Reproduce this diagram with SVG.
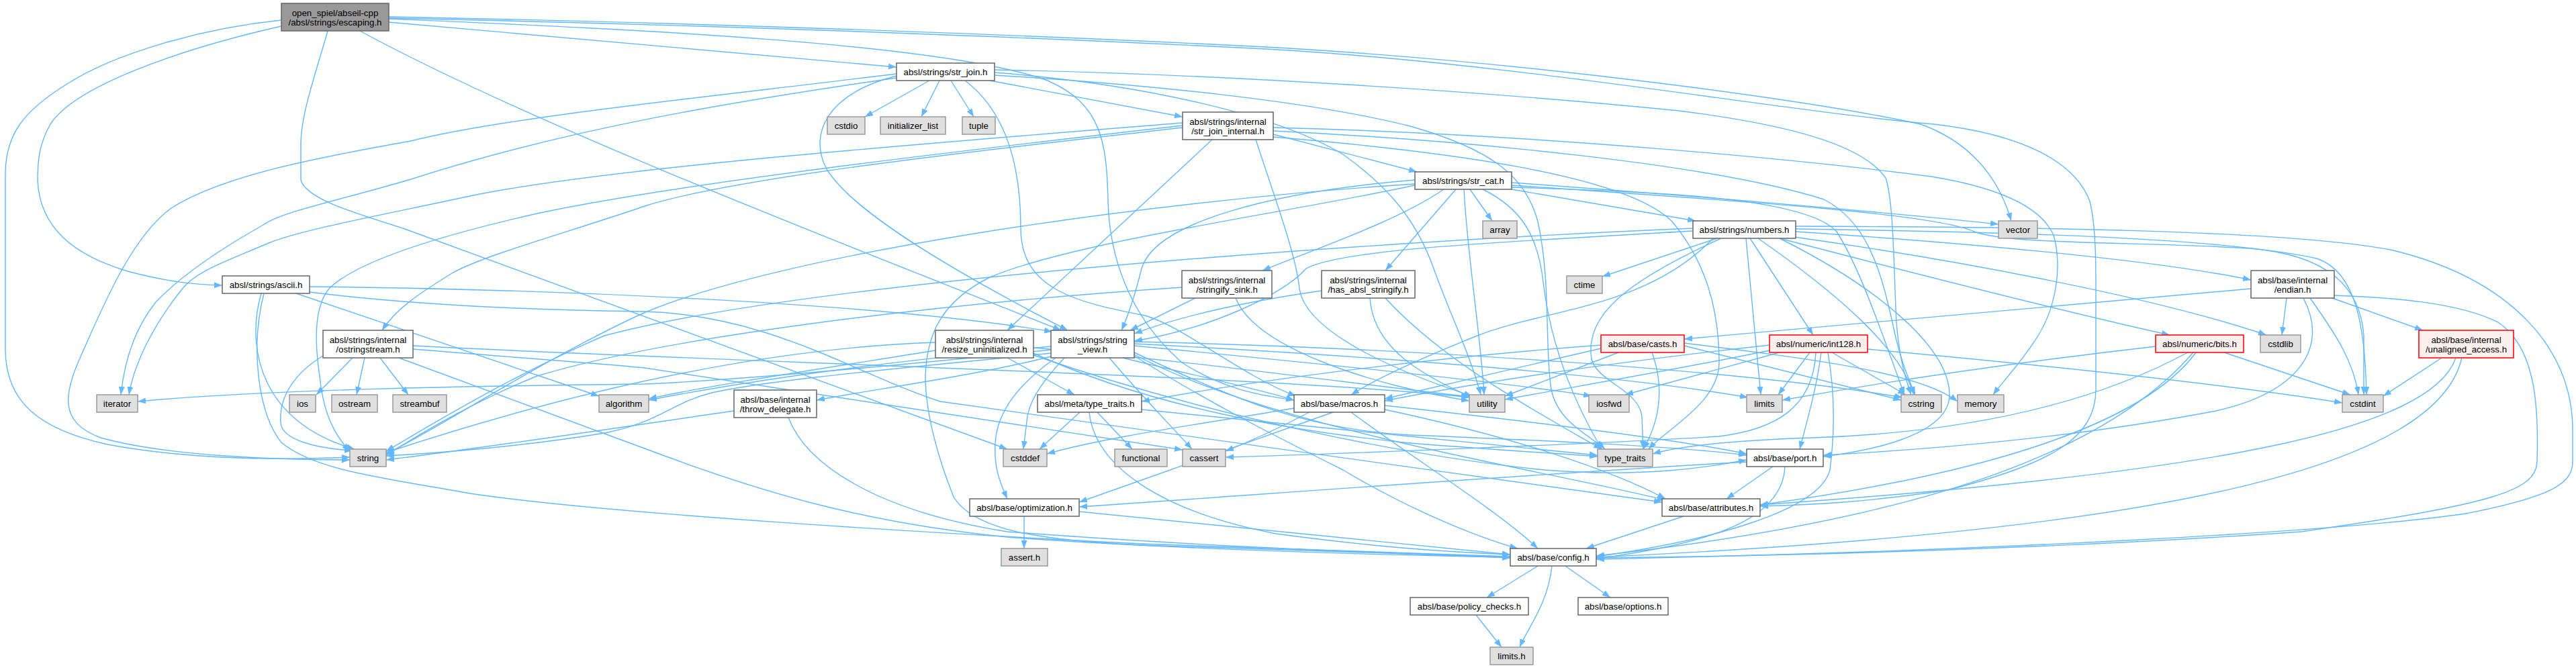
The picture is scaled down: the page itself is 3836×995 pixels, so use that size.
<svg xmlns="http://www.w3.org/2000/svg" width="3836" height="995" viewBox="0 0 3836 995">
<defs>
<marker id="a" markerWidth="12" markerHeight="9" refX="12" refY="4.5" orient="auto" markerUnits="userSpaceOnUse"><path d="M0,0 L12,4.5 L0,9 z" fill="#63B8FF"/></marker>
<style>
.e path{fill:none;stroke:#63B8FF;stroke-width:1.4;marker-end:url(#a)}
.w rect{fill:#fff;stroke:#666;stroke-width:1.5}
.g rect{fill:#E0E0E0;stroke:#999;stroke-width:1.5}
.r rect{fill:#FFF0F0;stroke:#F00;stroke-width:1.5}
.k rect{fill:#999;stroke:#666;stroke-width:1.5}
text{font-family:"Liberation Sans",Arial,Helvetica,sans-serif;font-size:13.3px;text-anchor:middle;fill:#000}
</style>
</defs>
<rect width="3836" height="995" fill="#fff"/>
<g id="edges" class="e">
<path d="M579,33 L1335,100"/>
<path d="M419,30 C300,42 170,80 100,125 C35,165 8,200 8,260 L8,520 C8,600 60,640 160,662 C300,688 450,684 521,681"/>
<path d="M419,39 C260,75 110,130 75,185 C58,215 56,240 56,270 C60,340 110,380 190,404 C250,420 290,424 331,425"/>
<path d="M488,46 C470,110 448,170 448,215 L448,268 C455,295 520,315 600,340 L1500,669"/>
<path d="M536,46 C800,190 1300,380 1580,492"/>
<path d="M579,28 C900,42 1400,62 1560,120 C1640,155 1648,210 1650,300 C1652,380 1680,470 1760,540 C1830,585 1890,590 1927,596"/>
<path d="M579,25 C1100,35 1600,55 1920,72 C2300,95 2700,150 2860,185 C2930,210 2975,260 2995,329"/>
<path d="M579,27 C1100,38 1600,58 1920,75 C2300,100 2650,165 2880,185 C3010,200 3090,240 3112,300 C3122,340 3121,400 3121,460 L3121,580 C3121,650 3060,690 2900,730 C2780,748 2700,752 2621,754"/>
<path d="M1384,120 L1288,174"/>
<path d="M1399,120 L1372,174"/>
<path d="M1416,120 L1450,174"/>
<path d="M1474,120 L1761,174"/>
<path d="M1335,110 C1050,145 750,175 612,210 C470,235 330,262 255,310 C200,350 160,440 125,520 C95,585 85,628 150,652 C250,680 420,685 521,685"/>
<path d="M1335,116 C1100,150 850,190 612,267 C500,300 420,315 392,335 C330,370 270,410 232,450 C200,490 185,540 180,588"/>
<path d="M1335,113 C1230,140 1205,200 1230,250 C1270,320 1450,420 1590,492"/>
<path d="M1437,120 C1490,160 1520,230 1520,340 C1520,430 1600,450 1705,470 C1760,485 1850,560 1930,590"/>
<path d="M1481,104 C1800,110 2200,135 2500,165 C2700,190 2780,225 2808,265 C2820,300 2820,400 2824,480 C2828,530 2836,560 2846,588"/>
<path d="M1481,112 C1700,125 1950,150 2100,188 C2220,222 2272,262 2290,330 C2310,420 2300,520 2310,580 C2320,630 2370,650 2390,669"/>
<path d="M1481,108 C1700,125 1900,170 2000,230 C2070,280 2110,330 2135,400 C2160,470 2190,530 2205,588"/>
<path d="M1896,195 C2200,210 2550,245 2716,297 C2780,330 2800,400 2818,480 C2828,530 2840,560 2852,588"/>
<path d="M1896,190 C2300,200 2700,240 2876,263 C2980,280 3040,310 3058,350 C3072,400 3060,460 3035,500 C3010,540 2985,565 2968,588"/>
<path d="M1896,204 C2150,225 2420,260 2490,330 C2540,390 2560,460 2560,540 C2560,600 2480,640 2455,669"/>
<path d="M1870,208 C1900,300 1930,380 1935,430 C1945,500 2100,560 2192,590"/>
<path d="M1805,208 L1500,492"/>
<path d="M1896,200 L2110,256"/>
<path d="M1761,190 C1500,220 1100,262 960,307 C850,345 720,380 673,407 C620,440 590,460 569,492"/>
<path d="M1761,183 C1400,212 900,250 700,292 C560,322 450,342 400,362 C330,392 290,405 270,432 C230,482 200,540 192,588"/>
<path d="M1761,187 C1400,228 1000,275 800,318 C650,352 530,390 490,430 C465,460 470,520 476,560 C480,600 490,640 521,672"/>
<path d="M2150,282 C2080,330 1960,370 1880,403"/>
<path d="M2168,282 L2063,403"/>
<path d="M2180,282 C2185,380 2205,500 2210,588"/>
<path d="M2189,282 L2222,329"/>
<path d="M2208,282 C2265,310 2290,350 2298,420 C2310,520 2345,600 2385,669"/>
<path d="M2251,272 C2500,290 2800,315 2976,334"/>
<path d="M2251,276 C2600,300 2880,318 2940,345 C2990,365 3200,360 3350,370 C3470,380 3515,430 3520,500 L3520,588"/>
<path d="M2251,279 C2480,286 2690,295 2735,345 C2770,400 2800,490 2836,588"/>
<path d="M2251,282 L2525,329"/>
<path d="M2107,274 C1700,300 1150,380 950,470 C800,540 650,640 575,676"/>
<path d="M2107,268 C1900,285 1720,330 1700,400 C1690,440 1680,470 1670,492"/>
<path d="M2107,276 C1900,320 1600,360 1474,413 C1400,450 1380,500 1378,560 C1378,620 1400,690 1420,740 C1450,790 1550,805 1700,812 C1900,820 2100,826 2249,830"/>
<path d="M2557,355 L2386,412"/>
<path d="M2551,355 C2450,460 2300,460 2200,500 C2100,540 2040,570 2012,588"/>
<path d="M2563,355 C2420,420 2360,470 2370,535 C2380,570 2440,580 2445,620 L2447,669"/>
<path d="M2600,355 L2622,588"/>
<path d="M2606,355 L2700,499"/>
<path d="M2618,355 C2740,440 2830,520 2850,588"/>
<path d="M2650,355 C2900,420 3100,470 3231,499"/>
<path d="M2665,352 C2900,385 3200,440 3375,499"/>
<path d="M2674,345 C2900,360 3200,385 3352,417"/>
<path d="M2674,341 C2950,345 3300,352 3450,385 C3510,405 3522,490 3524,588"/>
<path d="M2674,337 C3000,338 3400,342 3560,372 C3740,415 3831,520 3831,640 L3831,688 C3831,720 3800,740 3672,765 C3500,790 3000,820 2377,833"/>
<path d="M2650,355 C2800,430 2905,520 2903,590 C2900,650 2780,672 2715,680"/>
<path d="M2521,340 C2000,362 1200,420 900,500 C760,560 630,640 575,672"/>
<path d="M2521,344 C2250,360 2000,370 1945,400 C1910,440 1800,490 1689,508"/>
<path d="M1968,433 C1850,450 1760,470 1689,497"/>
<path d="M2040,444 C2045,520 2120,560 2192,592"/>
<path d="M2063,444 C2150,540 2300,620 2385,669"/>
<path d="M1780,444 L1683,492"/>
<path d="M1760,428 C1400,452 1000,500 800,560 C700,600 620,650 575,678"/>
<path d="M1840,444 C1870,520 2050,575 2188,597"/>
<path d="M441,437 L892,590"/>
<path d="M389,437 C365,520 390,630 528,669"/>
<path d="M393,437 C372,520 385,620 420,660 C470,700 560,710 700,735 C900,765 1400,795 1700,810 C1950,820 2150,826 2249,829"/>
<path d="M461,427 C800,430 1300,450 1567,494"/>
<path d="M461,435 C620,455 800,462 960,464 C1150,470 1280,560 1400,598 C1700,640 2200,710 2475,748"/>
<path d="M525,533 L471,588"/>
<path d="M543,533 L531,588"/>
<path d="M566,533 L608,588"/>
<path d="M481,530 C440,555 415,590 418,630 C420,655 470,668 525,671"/>
<path d="M594,533 L960,668 C1150,740 1300,780 1500,800 C1700,815 2000,826 2249,830"/>
<path d="M615,515 C1100,540 1900,560 2188,592"/>
<path d="M615,520 C800,535 900,542 960,548 L1761,670"/>
<path d="M1393,522 C1250,545 1050,575 966,594"/>
<path d="M1393,510 C1100,520 800,600 575,674"/>
<path d="M1500,533 L1600,588"/>
<path d="M1539,518 C1800,540 2000,570 2188,591"/>
<path d="M1539,526 C1700,600 1900,640 2100,660 C2250,672 2330,676 2379,680"/>
<path d="M1539,529 C1800,620 2100,680 2300,700 C2450,712 2550,695 2601,685"/>
<path d="M1093,612 C900,640 700,670 575,685"/>
<path d="M1174,622 C1200,690 1300,760 1500,792 C1800,815 2100,825 2249,831"/>
<path d="M1608,614 L1548,669"/>
<path d="M1634,614 L1686,669"/>
<path d="M1622,614 C1630,690 1720,760 1900,795 C2050,815 2150,822 2249,826"/>
<path d="M1700,610 C1900,630 2200,660 2379,678"/>
<path d="M2410,525 L2241,590"/>
<path d="M2460,525 C2480,580 2470,630 2447,669"/>
<path d="M2508,515 L2831,596"/>
<path d="M2508,511 C2700,535 2860,555 2915,598"/>
<path d="M2384,519 L2062,594"/>
<path d="M2384,514 C2100,535 1850,570 1700,598"/>
<path d="M2635,514 C2400,540 2200,570 2062,597"/>
<path d="M2640,521 C2500,550 2350,575 2241,595"/>
<path d="M2650,525 L2420,588"/>
<path d="M2695,525 L2648,588"/>
<path d="M2728,525 L2838,588"/>
<path d="M2781,520 C3000,540 3300,570 3488,600"/>
<path d="M2712,525 C2705,580 2690,630 2680,669"/>
<path d="M2722,525 C2735,600 2730,660 2725,700 C2710,760 2550,805 2377,829"/>
<path d="M2704,525 C2700,610 2640,640 2560,650 C2400,660 2000,676 1825,681"/>
<path d="M3312,525 L3500,588"/>
<path d="M3210,516 C3000,540 2800,570 2654,596"/>
<path d="M3258,525 C3100,610 2900,645 2700,652 C2580,656 2500,665 2461,676"/>
<path d="M3266,525 C3150,660 2900,770 2377,828"/>
<path d="M3270,525 C3200,620 3000,700 2621,752"/>
<path d="M3405,444 L3398,499"/>
<path d="M3440,444 C3480,500 3505,540 3512,588"/>
<path d="M3473,444 L3608,492"/>
<path d="M3352,430 C3000,460 2700,490 2508,505"/>
<path d="M3476,440 C3560,443 3660,450 3720,480 C3780,520 3780,620 3778,688 C3776,730 3720,750 3427,792 C3100,815 2700,828 2377,831"/>
<path d="M3430,444 C3470,520 3420,585 3300,612 C3100,650 2900,668 2715,678"/>
<path d="M3636,533 L3549,590"/>
<path d="M3657,533 C3620,640 3300,705 2621,752"/>
<path d="M3666,533 C3630,690 3250,790 2377,830"/>
<path d="M1950,614 C1900,640 1860,658 1825,672"/>
<path d="M1927,608 C1800,630 1650,650 1559,676"/>
<path d="M1985,614 L1607,748"/>
<path d="M2012,614 C2100,680 2230,760 2290,817"/>
<path d="M2062,610 C2250,650 2400,700 2480,743"/>
<path d="M2062,604 C2300,630 2500,655 2601,676"/>
<path d="M1565,516 C1300,540 1100,570 966,596"/>
<path d="M1565,521 C1300,548 1100,566 960,572 C700,575 400,580 205,598"/>
<path d="M1565,526 C1350,548 1150,565 1060,585 C1000,600 980,630 900,645 C780,665 650,675 575,679"/>
<path d="M1565,531 C1450,560 1300,580 1216,596"/>
<path d="M1585,533 C1560,560 1535,590 1530,620 L1524,669"/>
<path d="M1572,533 C1520,570 1485,610 1482,660 C1480,700 1490,720 1500,743"/>
<path d="M1652,533 C1700,590 1740,630 1775,669"/>
<path d="M1672,533 C1780,560 1870,578 1927,596"/>
<path d="M1689,530 C1800,600 1900,650 2000,700 C2100,760 2200,800 2260,817"/>
<path d="M1689,515 C1950,540 2250,570 2370,590"/>
<path d="M1689,512 C2000,528 2400,556 2603,592"/>
<path d="M1689,509 C2100,518 2600,552 2833,592"/>
<path d="M1689,525 C1850,600 1950,640 2100,648 C2300,656 2500,665 2601,678"/>
<path d="M1689,528 C1900,640 2300,700 2480,745"/>
<path d="M1525,769 L1525,817"/>
<path d="M1607,762 L2249,826"/>
<path d="M2640,695 L2571,743"/>
<path d="M2658,695 C2655,770 2560,808 2377,832"/>
<path d="M2601,688 C2300,705 1900,735 1607,755"/>
<path d="M2507,769 L2362,817"/>
<path d="M2290,843 L2214,890"/>
<path d="M2331,843 L2398,890"/>
<path d="M2311,843 C2305,900 2275,935 2263,964"/>
<path d="M2198,916 L2236,964"/>
</g>
<g id="n_escaping" class="k"><rect x="419" y="5" width="160" height="41"/><text x="499" y="23.5">open_spiel/abseil-cpp</text><text x="499" y="38.3">/absl/strings/escaping.h</text></g>
<g id="n_str_join" class="w"><rect x="1335" y="94" width="146" height="26"/><text x="1408" y="111.7">absl/strings/str_join.h</text></g>
<g id="n_cstdio" class="g"><rect x="1232" y="174" width="56" height="26"/><text x="1260" y="191.7">cstdio</text></g>
<g id="n_initializer_list" class="g"><rect x="1311" y="174" width="97" height="26"/><text x="1359.5" y="191.7">initializer_list</text></g>
<g id="n_tuple" class="g"><rect x="1433" y="174" width="49" height="26"/><text x="1457.5" y="191.7">tuple</text></g>
<g id="n_str_join_internal" class="w"><rect x="1761" y="167" width="135" height="41"/><text x="1828.5" y="185.5">absl/strings/internal</text><text x="1828.5" y="200.3">/str_join_internal.h</text></g>
<g id="n_str_cat" class="w"><rect x="2107" y="256" width="144" height="26"/><text x="2179" y="273.7">absl/strings/str_cat.h</text></g>
<g id="n_array" class="g"><rect x="2208" y="329" width="51" height="26"/><text x="2233.5" y="346.7">array</text></g>
<g id="n_numbers" class="w"><rect x="2521" y="329" width="153" height="26"/><text x="2597.5" y="346.7">absl/strings/numbers.h</text></g>
<g id="n_vector" class="g"><rect x="2976" y="329" width="58" height="26"/><text x="3005" y="346.7">vector</text></g>
<g id="n_ascii" class="w"><rect x="331" y="411" width="130" height="26"/><text x="396" y="428.7">absl/strings/ascii.h</text></g>
<g id="n_stringify_sink" class="w"><rect x="1760" y="403" width="134" height="41"/><text x="1827" y="421.5">absl/strings/internal</text><text x="1827" y="436.3">/stringify_sink.h</text></g>
<g id="n_has_absl_stringify" class="w"><rect x="1968" y="403" width="139" height="41"/><text x="2037.5" y="421.5">absl/strings/internal</text><text x="2037.5" y="436.3">/has_absl_stringify.h</text></g>
<g id="n_ctime" class="g"><rect x="2333" y="411" width="53" height="26"/><text x="2359.5" y="428.7">ctime</text></g>
<g id="n_endian" class="w"><rect x="3352" y="403" width="124" height="41"/><text x="3414" y="421.5">absl/base/internal</text><text x="3414" y="436.3">/endian.h</text></g>
<g id="n_ostringstream" class="w"><rect x="481" y="492" width="134" height="41"/><text x="548" y="510.5">absl/strings/internal</text><text x="548" y="525.3">/ostringstream.h</text></g>
<g id="n_resize_uninitialized" class="w"><rect x="1393" y="492" width="146" height="41"/><text x="1466" y="510.5">absl/strings/internal</text><text x="1466" y="525.3">/resize_uninitialized.h</text></g>
<g id="n_string_view" class="w"><rect x="1565" y="492" width="124" height="41"/><text x="1627" y="510.5">absl/strings/string</text><text x="1627" y="525.3">_view.h</text></g>
<g id="n_casts" class="r"><rect x="2384" y="499" width="124" height="26"/><text x="2446" y="516.7">absl/base/casts.h</text></g>
<g id="n_int128" class="r"><rect x="2635" y="499" width="146" height="26"/><text x="2708" y="516.7">absl/numeric/int128.h</text></g>
<g id="n_bits" class="r"><rect x="3210" y="499" width="131" height="26"/><text x="3275.5" y="516.7">absl/numeric/bits.h</text></g>
<g id="n_cstdlib" class="g"><rect x="3366" y="499" width="60" height="26"/><text x="3396" y="516.7">cstdlib</text></g>
<g id="n_unaligned_access" class="r"><rect x="3602" y="492" width="141" height="41"/><text x="3672.5" y="510.5">absl/base/internal</text><text x="3672.5" y="525.3">/unaligned_access.h</text></g>
<g id="n_iterator" class="g"><rect x="144" y="588" width="61" height="26"/><text x="174.5" y="605.7">iterator</text></g>
<g id="n_ios" class="g"><rect x="431" y="588" width="39" height="26"/><text x="450.5" y="605.7">ios</text></g>
<g id="n_ostream" class="g"><rect x="494" y="588" width="68" height="26"/><text x="528" y="605.7">ostream</text></g>
<g id="n_streambuf" class="g"><rect x="585" y="588" width="80" height="26"/><text x="625" y="605.7">streambuf</text></g>
<g id="n_algorithm" class="g"><rect x="892" y="588" width="74" height="26"/><text x="929" y="605.7">algorithm</text></g>
<g id="n_throw_delegate" class="w"><rect x="1093" y="581" width="123" height="41"/><text x="1154.5" y="599.5">absl/base/internal</text><text x="1154.5" y="614.3">/throw_delegate.h</text></g>
<g id="n_meta_type_traits" class="w"><rect x="1545" y="588" width="155" height="26"/><text x="1622.5" y="605.7">absl/meta/type_traits.h</text></g>
<g id="n_macros" class="w"><rect x="1927" y="588" width="135" height="26"/><text x="1994.5" y="605.7">absl/base/macros.h</text></g>
<g id="n_utility" class="g"><rect x="2188" y="588" width="53" height="26"/><text x="2214.5" y="605.7">utility</text></g>
<g id="n_iosfwd" class="g"><rect x="2366" y="588" width="60" height="26"/><text x="2396" y="605.7">iosfwd</text></g>
<g id="n_limits" class="g"><rect x="2601" y="588" width="53" height="26"/><text x="2627.5" y="605.7">limits</text></g>
<g id="n_cstring" class="g"><rect x="2831" y="588" width="60" height="26"/><text x="2861" y="605.7">cstring</text></g>
<g id="n_memory" class="g"><rect x="2915" y="588" width="69" height="26"/><text x="2949.5" y="605.7">memory</text></g>
<g id="n_cstdint" class="g"><rect x="3488" y="588" width="61" height="26"/><text x="3518.5" y="605.7">cstdint</text></g>
<g id="n_string" class="g"><rect x="521" y="669" width="54" height="26"/><text x="548" y="686.7">string</text></g>
<g id="n_cstddef" class="g"><rect x="1494" y="669" width="65" height="26"/><text x="1526.5" y="686.7">cstddef</text></g>
<g id="n_functional" class="g"><rect x="1660" y="669" width="78" height="26"/><text x="1699" y="686.7">functional</text></g>
<g id="n_cassert" class="g"><rect x="1761" y="669" width="64" height="26"/><text x="1793" y="686.7">cassert</text></g>
<g id="n_type_traits" class="g"><rect x="2379" y="669" width="82" height="26"/><text x="2420" y="686.7">type_traits</text></g>
<g id="n_port" class="w"><rect x="2601" y="669" width="114" height="26"/><text x="2658" y="686.7">absl/base/port.h</text></g>
<g id="n_optimization" class="w"><rect x="1444" y="743" width="163" height="26"/><text x="1525.5" y="760.7">absl/base/optimization.h</text></g>
<g id="n_attributes" class="w"><rect x="2475" y="743" width="146" height="26"/><text x="2548" y="760.7">absl/base/attributes.h</text></g>
<g id="n_assert_h" class="g"><rect x="1491" y="817" width="69" height="26"/><text x="1525.5" y="834.7">assert.h</text></g>
<g id="n_config" class="w"><rect x="2249" y="817" width="128" height="26"/><text x="2313" y="834.7">absl/base/config.h</text></g>
<g id="n_policy_checks" class="w"><rect x="2100" y="890" width="176" height="26"/><text x="2188" y="907.7">absl/base/policy_checks.h</text></g>
<g id="n_options" class="w"><rect x="2350" y="890" width="134" height="26"/><text x="2417" y="907.7">absl/base/options.h</text></g>
<g id="n_limits_h" class="g"><rect x="2219" y="964" width="64" height="26"/><text x="2251" y="981.7">limits.h</text></g>
</svg>
